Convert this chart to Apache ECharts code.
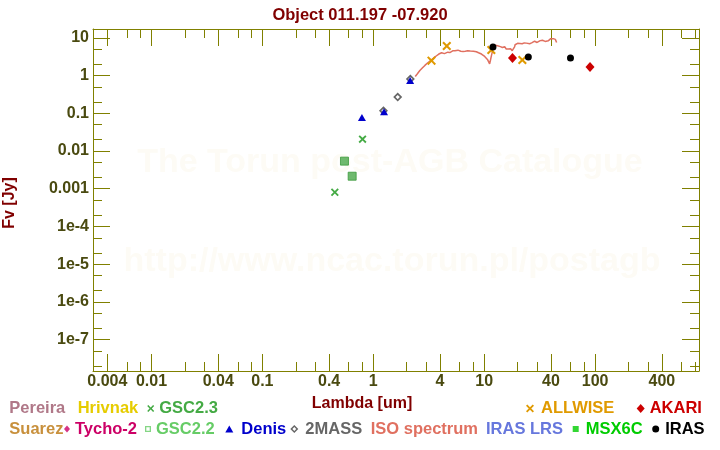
<!DOCTYPE html>
<html><head><meta charset="utf-8">
<script src="https://cdn.jsdelivr.net/npm/echarts/dist/echarts.min.js"></script>
<style>html,body{margin:0;padding:0;background:#fff}#c{width:720px;height:450px}</style>
</head><body><div id="c"></div>
<script>
// ---------------- data ----------------
const titleText = 'Object 011.197 -07.920';
const xAxisName = 'Lambda [um]';
const yAxisName = 'Fv [Jy]';
const watermark1 = 'The Torun post-AGB Catalogue';
const watermark2 = 'http://www.ncac.torun.pl/postagb';

const xMajorTicks = [0.004, 0.01, 0.04, 0.1, 0.4, 1, 4, 10, 40, 100, 400];
const xMajorLabels = ['0.004', '0.01', '0.04', '0.1', '0.4', '1', '4', '10', '40', '100', '400'];
const xMinorTicks = [0.006, 0.008, 0.02, 0.03, 0.06, 0.08, 0.2, 0.3, 0.6, 0.8, 2, 3, 6, 8, 20, 30, 60, 80, 200, 300, 600, 800];
const yMajorTicks = [10, 1, 0.1, 0.01, 0.001, 1e-4, 1e-5, 1e-6, 1e-7];
const yMajorLabels = ['10', '1', '0.1', '0.01', '0.001', '1e-4', '1e-5', '1e-6', '1e-7'];
const yMinorTicks = [5, 2, 0.5, 0.2, 0.05, 0.02, 0.005, 0.002, 5e-4, 2e-4, 5e-5, 2e-5, 5e-6, 2e-6, 5e-7, 2e-7, 5e-8, 2e-8];
const xRange = [0.00297, 865];
const yRange = [1.46e-8, 17.3];

// [lambda (um), flux (Jy)]
const gsc23 = [[0.45, 8.1e-4], [0.80, 0.0207]];
const gsc22 = [[0.55, 5.4e-3], [0.645, 2.15e-3]];
const denis = [[0.79, 0.0775], [1.25, 0.110], [2.15, 0.745]];
const twoMass = [[1.235, 0.117], [1.66, 0.27], [2.16, 0.81]];
const allwise = [[3.35, 2.5], [4.6, 6.1], [11.6, 4.8], [22.1, 2.6]];
const akari = [[18, 2.95], [90, 1.69]];
const iras = [[12, 5.75], [25, 3.12], [60, 2.94]];
const isoSpectrum = [
  [2.39, 0.95], [2.45, 1.05], [2.5, 1.12], [2.56, 1.22], [2.63, 1.37], [2.7, 1.48], [2.78, 1.62], [2.85, 1.74],
  [2.92, 1.87], [3.0, 2.0], [3.1, 2.2], [3.2, 2.36], [3.31, 2.54], [3.4, 2.75], [3.5, 2.95], [3.6, 3.15],
  [3.72, 3.38], [3.8, 3.6], [3.9, 3.75], [4.0, 3.85], [4.13, 4.06], [4.2, 3.9], [4.3, 4.0], [4.38, 3.85],
  [4.45, 4.1], [4.52, 3.95], [4.58, 3.99], [4.7, 4.2], [4.8, 4.25], [4.9, 4.1], [5.0, 4.35], [5.08, 4.32],
  [5.2, 4.55], [5.3, 4.4], [5.45, 4.6], [5.6, 4.45], [5.8, 4.75], [6.03, 4.67], [6.15, 4.45], [6.3, 4.6],
  [6.45, 4.4], [6.6, 4.6], [6.75, 4.45], [6.93, 4.4], [7.1, 4.55], [7.3, 4.45], [7.5, 4.5], [7.8, 4.35],
  [8.0, 4.45], [8.2, 4.35], [8.5, 4.32], [8.7, 4.15], [8.9, 4.05], [9.2, 3.9], [9.45, 3.75], [9.8, 3.45],
  [10.1, 3.24], [10.3, 3.1], [10.5, 2.94], [10.7, 2.7], [10.9, 2.55], [11.1, 2.4], [11.2, 2.05], [11.27, 2.24],
  [11.4, 2.6], [11.5, 2.9], [11.6, 3.3], [11.7, 3.59], [11.8, 4.1], [11.9, 4.6], [12.0, 5.4], [12.07, 6.2],
  [12.2, 6.6], [12.4, 6.8], [12.6, 6.4], [12.8, 6.9], [12.96, 6.6], [13.2, 6.2], [13.5, 6.0], [13.7, 6.4],
  [14.0, 5.9], [14.34, 6.0], [14.6, 5.6], [15.0, 5.5], [15.3, 5.9], [15.5, 5.6], [15.8, 5.1], [16.0, 5.3],
  [16.3, 5.6], [16.5, 5.1], [16.8, 5.0], [17.0, 4.7], [17.3, 5.2], [17.6, 4.9], [17.9, 4.6], [18.2, 4.8],
  [18.5, 5.1], [18.8, 5.8], [19.0, 6.6], [19.3, 7.05], [19.6, 6.7], [20.0, 7.2], [20.5, 6.8], [21.0, 7.1],
  [21.5, 6.7], [22.0, 7.0], [22.4, 6.9], [23.0, 7.4], [23.5, 7.0], [24.0, 7.3], [24.5, 6.9], [25.0, 7.2],
  [25.7, 7.05], [26.3, 7.7], [26.8, 7.4], [27.3, 8.0], [27.8, 7.3], [28.5, 8.2], [29.5, 8.1], [30.0, 7.6],
  [30.5, 8.0], [31.2, 7.8], [32.0, 8.5], [32.8, 8.0], [33.5, 8.7], [34.0, 8.3], [34.8, 9.0], [35.5, 8.1],
  [36.2, 8.6], [37.0, 9.1], [37.8, 8.4], [38.5, 9.3], [39.0, 8.6], [39.8, 9.6], [40.5, 9.2], [41.2, 8.8],
  [42.0, 9.6], [42.7, 9.0], [43.3, 9.9], [43.8, 9.2], [44.2, 8.4], [44.6, 9.1], [45.0, 7.6]
];
// ---------------- end data ----------------

const FONT = "'Liberation Sans', Arial, Helvetica, sans-serif";
const OLIVE = '#808000';
const LABEL = '#4a4a10';
const DARKRED = '#800000';
const X_PATH = 'path://M0,1.6L1.6,0L5,3.4L8.4,0L10,1.6L6.6,5L10,8.4L8.4,10L5,6.6L1.6,10L0,8.4L3.4,5Z';
const HOLLOW_DIAMOND = 'path://M5,0L10,5L5,10L0,5Z M5,2.6L2.6,5L5,7.4L7.4,5Z';
const HOLLOW_SQUARE = 'path://M0,0H10V10H0Z M2.2,2.2V7.8H7.8V2.2Z';

const colors = {
  'Pereira': '#b07888', 'Hrivnak': '#e6cc00', 'GSC2.3': '#44aa44', 'ALLWISE': '#e09a00', 'AKARI': '#cc0000',
  'Suarez': '#c8903c', 'Tycho-2': '#cc0066', 'GSC2.2': '#66cc66', 'Denis': '#0000cc', '2MASS': '#666666',
  'ISO spectrum': '#e07060', 'IRAS LRS': '#6677dd', 'MSX6C': '#00cc00', 'IRAS': '#000000'
};

function lookup(vals, labels, v) {
  let best = 0, bd = Infinity;
  for (let i = 0; i < vals.length; i++) {
    const d = Math.abs(Math.log10(vals[i]) - Math.log10(v));
    if (d < bd) { bd = d; best = i; }
  }
  return bd < 1e-6 ? labels[best] : '';
}

function xAx(pos, major) {
  return {
    type: 'log', gridIndex: 0, position: pos, min: xRange[0], max: xRange[1],
    axisLine: { show: major, onZero: false, lineStyle: { color: OLIVE, width: 1 } },
    axisTick: { show: true, inside: true, length: major ? 17 : 9, lineStyle: { color: OLIVE, width: 1 },
      customValues: major ? xMajorTicks : xMinorTicks },
    axisLabel: { show: major && pos === 'bottom', customValues: xMajorTicks, margin: 3,
      color: LABEL, fontWeight: 'bold', fontSize: 16, fontFamily: FONT,
      formatter: v => lookup(xMajorTicks, xMajorLabels, v) },
    splitLine: { show: false }, minorTick: { show: false },
    name: (major && pos === 'bottom') ? xAxisName : '', nameLocation: 'middle', nameGap: 25,
    nameTextStyle: { color: DARKRED, fontWeight: 'bold', fontSize: 16, fontFamily: FONT, padding: [0, 68, 0, 0] }
  };
}
function yAx(pos, major) {
  return {
    type: 'log', gridIndex: 0, position: pos, min: yRange[0], max: yRange[1],
    axisLine: { show: major, onZero: false, lineStyle: { color: OLIVE, width: 1 } },
    axisTick: { show: true, inside: true, length: major ? 17 : 9, lineStyle: { color: OLIVE, width: 1 },
      customValues: major ? yMajorTicks : yMinorTicks },
    axisLabel: { show: major && pos === 'left', customValues: yMajorTicks, margin: 4,
      color: LABEL, fontWeight: 'bold', fontSize: 16, fontFamily: FONT,
      formatter: v => lookup(yMajorTicks, yMajorLabels, v) },
    splitLine: { show: false }, minorTick: { show: false },
    name: (major && pos === 'left') ? yAxisName : '', nameLocation: 'middle', nameGap: 75, nameRotate: 90,
    nameTextStyle: { color: DARKRED, fontWeight: 'bold', fontSize: 16, fontFamily: FONT, padding: [0, 6, 0, 0] }
  };
}

// legend layout: [name, left, top, icon, itemWidth, itemHeight, textPadLeft]
const R1 = 400, R2 = 420.5;
const legendLayout = [
  ['Pereira', 4.3, R1, 'none', 0, 8, 0],
  ['Hrivnak', 72.7, R1, 'none', 0, 8, 0],
  ['GSC2.3', 147.2, R1, X_PATH, 7, 7, 0],
  ['ALLWISE', 526, R1, X_PATH, 8, 8, 2],
  ['AKARI', 636.7, R1, 'diamond', 8, 9, 0],
  ['Suarez', 4.3, R2, 'none', 0, 8, 0],
  ['Tycho-2', 64, R2, 'diamond', 6, 7, 0],
  ['GSC2.2', 145, R2, HOLLOW_SQUARE, 6, 6, 0],
  ['Denis', 225.3, R2, 'triangle', 8, 7, 3],
  ['2MASS', 290.3, R2, HOLLOW_DIAMOND, 8, 8, 2],
  ['ISO spectrum', 365.7, R2, 'none', 0, 8, 0],
  ['IRAS LRS', 481, R2, 'none', 0, 8, 0],
  ['MSX6C', 572.7, R2, 'rect', 6, 6, 2],
  ['IRAS', 652.2, R2, 'circle', 7, 7, 1]
];
const legends = legendLayout.map(([name, left, top, icon, w, h, pad]) => ({
  data: [{ name: name, icon: icon,
    itemStyle: { color: colors[name], borderWidth: 0, borderColor: 'transparent' },
    textStyle: { color: colors[name] } }],
  left: left, top: top, orient: 'horizontal', padding: 0, itemGap: 0,
  itemWidth: w, itemHeight: h, selectedMode: false,
  textStyle: { fontSize: 16.5, fontWeight: 'bold', fontFamily: FONT, padding: [0, 0, 0, pad] }
}));

function scatter(name, data, symbol, size, extra) {
  return Object.assign({
    name: name, type: 'scatter', data: data, symbol: symbol, symbolSize: size, z: 3,
    itemStyle: { color: colors[name], opacity: 1 }, emphasis: { disabled: true }
  }, extra || {});
}

const option = {
  animation: false,
  backgroundColor: '#ffffff',
  title: { text: titleText, left: 'center', top: 2,
    textStyle: { color: DARKRED, fontSize: 16.5, fontWeight: 'bold', fontFamily: FONT } },
  grid: { left: 93, right: 21, top: 29, bottom: 79, containLabel: false, outerBoundsMode: 'none' },
  xAxis: [xAx('bottom', true), xAx('bottom', false), xAx('top', true), xAx('top', false)],
  yAxis: [yAx('left', true), yAx('left', false), yAx('right', true), yAx('right', false)],
  legend: legends,
  graphic: [
    { type: 'text', z: -10, x: 390, y: 163, style: { text: watermark1, textAlign: 'center', textVerticalAlign: 'middle',
      font: "bold 34px 'Liberation Sans', Arial, sans-serif", fill: '#fdfbf5' } },
    { type: 'text', z: -10, x: 392, y: 262, style: { text: watermark2, textAlign: 'center', textVerticalAlign: 'middle',
      font: "bold 34px 'Liberation Sans', Arial, sans-serif", fill: '#fdfbf5' } }
  ],
  series: [
    { name: 'Pereira', type: 'scatter', data: [] },
    { name: 'Hrivnak', type: 'scatter', data: [] },
    { name: 'Suarez', type: 'scatter', data: [] },
    { name: 'Tycho-2', type: 'scatter', data: [] },
    { name: 'IRAS LRS', type: 'line', data: [] },
    { name: 'MSX6C', type: 'scatter', data: [] },
    { name: 'ISO spectrum', type: 'line', data: isoSpectrum, showSymbol: false, z: 2,
      lineStyle: { color: colors['ISO spectrum'], width: 1.5 }, itemStyle: { color: colors['ISO spectrum'] },
      emphasis: { disabled: true } },
    scatter('GSC2.3', gsc23, X_PATH, 8),
    scatter('GSC2.2', gsc22, 'rect', 8, { itemStyle: { color: '#4aa84a', borderColor: '#3c9a3c', borderWidth: 1 } }),
    scatter('2MASS', twoMass, HOLLOW_DIAMOND, 9),
    scatter('Denis', denis, 'triangle', [8, 7]),
    scatter('ALLWISE', allwise, X_PATH, 9),
    scatter('AKARI', akari, 'diamond', [9, 10]),
    scatter('IRAS', iras, 'circle', 7)
  ]
};

const chart = echarts.init(document.getElementById('c'), null, { renderer: 'canvas' });
chart.setOption(option);
</script>
</body></html>
